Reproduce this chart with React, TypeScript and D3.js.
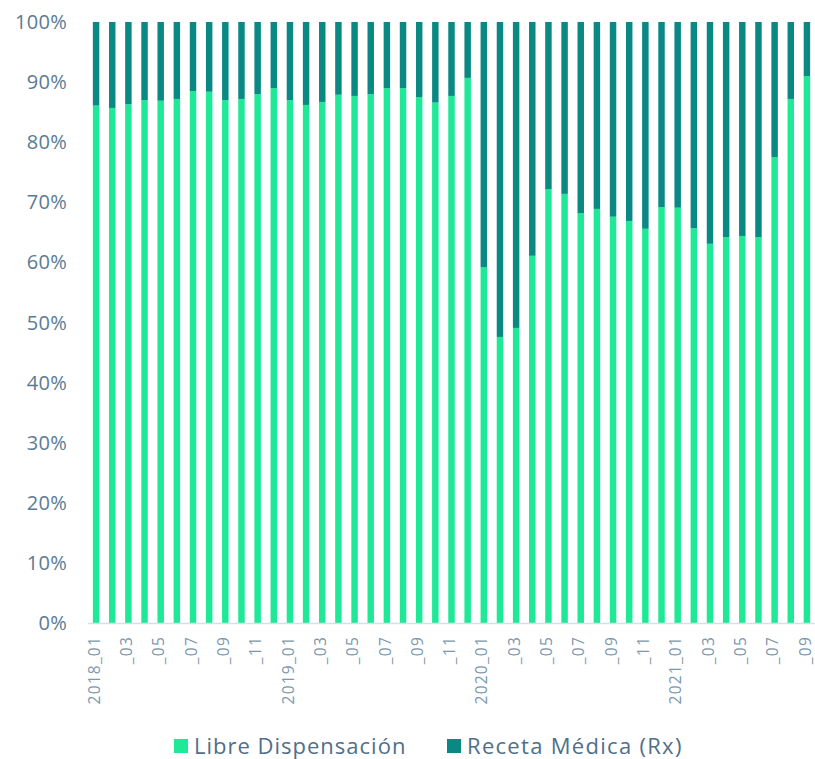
import React from 'react';
import * as d3 from 'd3';

// months 2018_01 .. 2021_09
const months: string[] = [
	'2018_01', '2018_02', '2018_03', '2018_04', '2018_05', '2018_06', '2018_07', '2018_08', '2018_09', '2018_10', '2018_11', '2018_12',
	'2019_01', '2019_02', '2019_03', '2019_04', '2019_05', '2019_06', '2019_07', '2019_08', '2019_09', '2019_10', '2019_11', '2019_12',
	'2020_01', '2020_02', '2020_03', '2020_04', '2020_05', '2020_06', '2020_07', '2020_08', '2020_09', '2020_10', '2020_11', '2020_12',
	'2021_01', '2021_02', '2021_03', '2021_04', '2021_05', '2021_06', '2021_07', '2021_08', '2021_09',
];

// share of Libre Dispensación (%), Receta Médica is the rest up to 100
const libre: number[] = [
	86.1, 85.7, 86.3, 87.0, 86.9, 87.2, 88.5, 88.4, 87.0, 87.2, 88.0, 89.0,
	87.0, 86.2, 86.7, 87.9, 87.7, 88.0, 89.0, 89.0, 87.5, 86.6, 87.7, 90.7,
	59.2, 47.6, 49.1, 61.1, 72.2, 71.4, 68.2, 68.9, 67.6, 66.9, 65.6, 69.2,
	69.1, 65.7, 63.1, 64.2, 64.4, 64.2, 77.5, 87.2, 91.0,
];
const receta: number[] = libre.map(v => 100 - v);

const yTicks: number[] = [0, 10, 20, 30, 40, 50, 60, 70, 80, 90, 100];

const seriesNames = ['Libre Dispensación', 'Receta Médica (Rx)'];
const colors = ['#1de996', '#098884'];

const W = 815;
const H = 759;

export default function App() {
	const x = d3.scaleBand<string>().domain(months).range([88, 815]).paddingInner(0.6).paddingOuter(0.3);
	const y = d3.scaleLinear().domain([0, 100]).range([623, 22]);

	const tickLabel = (m: string) => (m.endsWith('_01') ? m : '_' + m.slice(5));

	return (
		<svg width={W} height={H} style={{position: 'absolute', left: 0, top: 0, fontFamily: '"Open Sans", sans-serif'}}>
			{/* y axis labels */}
			<g>
				{yTicks.map(t => (
					<text key={t} x={67} y={y(t)} dy="0.35em" textAnchor="end" fontSize={20} letterSpacing={0.3} fill="#5b7b93">{t}%</text>
				))}
			</g>

			{/* bars: libre from bottom, receta stacked on top */}
			<g>
				{months.map((m, i) => (
					<g key={m}>
						<rect x={x(m)} y={y(libre[i])} width={x.bandwidth()} height={y(0) - y(libre[i])} fill={colors[0]}/>
						<rect x={x(m)} y={y(libre[i] + receta[i])} width={x.bandwidth()} height={y(libre[i]) - y(libre[i] + receta[i])} fill={colors[1]}/>
					</g>
				))}
			</g>

			{/* x axis */}
			<line x1={88} x2={815} y1={y(0) + 0.5} y2={y(0) + 0.5} stroke="#d9dee4" strokeWidth={1.5}/>
			<g>
				{months.map((m, i) => i % 2 === 0 ? (
					<text key={m}
						transform={`translate(${(x(m) as number) + x.bandwidth() / 2 - 1},${636}) rotate(-90)`}
						textAnchor="end" dy="0.3em" fontSize={15.5} letterSpacing={1.2} fill="#7b98ad">{tickLabel(m)}</text>
				) : null)}
			</g>

			{/* legend */}
			<g>
				<rect x={174} y={739} width={14} height={14} fill={colors[0]}/>
				<text x={194} y={746} dy="0.35em" fontSize={22} letterSpacing={1} fill="#4f6f8a">{seriesNames[0]}</text>
				<rect x={447} y={739} width={14} height={14} fill={colors[1]}/>
				<text x={467} y={746} dy="0.35em" fontSize={22} letterSpacing={1.3} fill="#4f6f8a">{seriesNames[1]}</text>
			</g>
		</svg>
	);
}
